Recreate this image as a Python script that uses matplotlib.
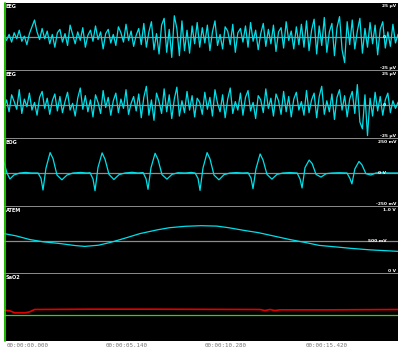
import numpy as np
import matplotlib.pyplot as plt
from matplotlib.lines import Line2D

# --- data ---
# EEG traces, µV, sampled evenly over the 20 s page
eeg1_uv = [2, -4, 3, -6, 5, -2, 8, -5, 1, -9, 4, 12, 20, 6, -3, 10, -2, 7, -8, 3, -12, 5,
           9, -6, 4, -10, 14, 3, -8, 6, -4, 11, -12, 2, 8, -5, 13, -3, 6, -14, 4, 9, -7, 3,
           -10, 12, 5, -6, 15, -4, 7, -11, 2, 10,
           -9, 16, -12, 6, 18, -15, 4, -20, 14, 22, -18, 9, -24, 25, 10, -22, 19, -16, 8,
           -19, 13, -8, 17, -12,
           11, -7, 14, -16, 6, 19, -10, 3, -14, 12, 7, -9, 15, -18, 5, 10, -6, 13, -12, 17,
           -5, 8, -15, 4, 16, -11, 9, -8, 14, -17, 6, 11, -13, 18, -4, 7, -14, 12, -9, 15,
           -12, 19, -16, 8, 21, -20, 13, -10, 23, -18, 6, 16, -22, 11, 24, -15, -30, 18, -9,
           20, -14, 7, 22, -19, 10, -12, 17, -8, 14, -21, 9, 18, -13, 6, -11, 15, -7, 3]
eeg2_uv = [-3, 6, -8, 12, 4, -5, 18, -10, 7, -2, 14, -6, 3, -12, 9, 16, -4, 8, -11, 5, 13, -7,
           10, -9, 4, 15, -6, 2, -13, 8, 20, -5, 11, -8, 6, -14, 12, 3, -10, 17, -3, 9, -12,
           5, 14, -9, 7, -4, 18, -11, 2, 10, -7, 13,
           -15, 9, 22, -12, 6, -18, 14, 4, -10, 19, -8, 12, -16, 7, 21, -13, 5, -9, 16, -6,
           11, -14, 8, 3,
           -11, 15, -5, 9, -13, 18, 2, -8, 12, -15, 7, 20, -10, 4, -6, 14, -12, 9, 17, -7,
           3, -16, 11, 6, -9, 19, -4, 8, -13, 13, 5, -11, 16, -8, 10, -14, 7, 15, -6, 4,
           -12, 17, -9, 6, 14, -15, 10, 22, -11, 5, -8, 13, -17, 9, 18, -6, 11, -14, 7, 16,
           -10, 24, -20, -28, 12, -36, 8, -13, 15, -7, 10, -12, 6, 14, -9, 5, -4, 3]

# EOG, (time s, mV)
eog_pts = [(0.00, 80), (0.15, 0), (0.30, -44), (0.50, -15), (0.80, 0), (1.10, 4), (1.40, 0),
           (1.73, 0), (1.88, -40), (1.98, -125), (2.13, 35), (2.34, 150), (2.49, 105),
           (2.69, -15), (2.94, -50), (3.20, -15), (3.50, 0), (3.90, 4), (4.20, 0),
           (4.37, 2), (4.52, -45), (4.62, -130), (4.77, 40), (4.98, 148), (5.13, 100),
           (5.33, -10), (5.58, -48), (5.84, -12), (6.14, 0), (6.50, 5), (6.80, 0),
           (7.06, 3), (7.21, -42), (7.31, -120), (7.46, 38), (7.67, 145), (7.82, 98),
           (8.02, -12), (8.27, -45), (8.53, -10), (8.83, 2), (9.20, 0), (9.50, 4),
           (9.70, 0), (9.85, -40), (9.95, -128), (10.10, 36), (10.31, 150), (10.46, 102),
           (10.66, -15), (10.91, -50), (11.17, -12), (11.47, 0), (11.80, 3), (12.10, 0),
           (12.39, 2), (12.54, -38), (12.64, -115), (12.79, 30), (13.00, 140), (13.15, 95),
           (13.35, -10), (13.60, -45), (13.86, -10), (14.16, 0), (14.50, 3), (14.88, 0),
           (15.03, -45), (15.13, -110), (15.28, 40), (15.49, 95), (15.64, 70), (15.84, -10),
           (16.09, -30), (16.35, -5), (16.65, 0), (17.00, 2), (17.41, 0), (17.56, -40),
           (17.66, -80), (17.81, 30), (18.02, 85), (18.17, 60), (18.37, -5), (18.62, -15),
           (18.88, 0), (19.18, 2), (19.50, 0), (20.00, 0)]

# ATEM (respiration), (time s, mV)
atem_pts = [(0.0, 603), (0.6, 570), (1.3, 515), (2.0, 480), (2.8, 456), (3.6, 425),
            (4.1, 412), (4.8, 430), (5.4, 471), (6.2, 540), (6.9, 603), (7.8, 660),
            (8.4, 691), (9.2, 712), (10.0, 721), (10.8, 715), (11.4, 691), (12.2, 650),
            (12.9, 618), (13.8, 560), (14.5, 515), (15.3, 470), (16.0, 427), (17.0, 400),
            (17.6, 383), (18.6, 360), (20.0, 338)]

# SaO2-like channel, (time s, %)
sat_pts = [(0.0, 46), (0.3, 45), (0.55, 42), (1.05, 42), (1.3, 43.5), (1.55, 47),
           (4.3, 47.5), (7.4, 47.5), (13.0, 47), (13.25, 45.5), (13.5, 47),
           (13.75, 45.5), (14.0, 46.5), (16.5, 46.5), (20.0, 47)]
sat_limit = 38.8

channel_names = ['EEG', 'EEG', 'EOG', 'ATEM', 'SaO2']
right_labels = [('25 µV', '0', '-25 µV'), ('25 µV', '0', '-25 µV'),
                ('250 mV', '0 V', '-250 mV'), ('1.0 V', '500 mV', '0 V'), ('', '', '')]
time_labels = ['00:00:00.000', '00:00:05.140', '00:00:10.280', '00:00:15.420']
time_pos = [0.15, 5.14, 10.2, 15.3]

# --- layout (pixels) ---
W, H = 400, 354
x0, x1 = 4, 398
bounds = [3, 71, 139, 207, 274, 341]
ylims = [(-40, 40), (-40, 40), (-250, 250), (0, 1000), (0, 100)]
cyan = '#00e0ea'
grey = '#8c8c8c'

fig = plt.figure(figsize=(W / 100, H / 100), dpi=100, facecolor='white')
axes = []
for k in range(5):
    top, bot = bounds[k], bounds[k + 1]
    ax = fig.add_axes([x0 / W, 1 - bot / H, (x1 - x0) / W, (bot - top) / H])
    ax.set_facecolor('black')
    ax.set_xlim(0, 20)
    ax.set_ylim(*ylims[k])
    ax.set_xticks([])
    ax.set_yticks([])
    for s in ax.spines.values():
        s.set_visible(False)
    lo, hi = ylims[k]
    if k < 4:
        ax.axhline((lo + hi) / 2, color=grey, lw=0.9, zorder=1)
        ax.axhline(lo, color=grey, lw=1.4, zorder=1)
    ax.text(0.004, 0.99, channel_names[k], transform=ax.transAxes, color='white',
            fontsize=3.6, fontweight='bold', va='top', ha='left', zorder=5)
    t_lab, m_lab, b_lab = right_labels[k]
    ax.text(0.995, 0.985, t_lab, transform=ax.transAxes, color='white', fontsize=3.2,
            fontweight='bold', va='top', ha='right', zorder=5)
    ax.text(0.995, 0.01, b_lab, transform=ax.transAxes, color='white', fontsize=3.2,
            fontweight='bold', va='bottom', ha='right', zorder=5)
    ax.text(0.97, 0.5, m_lab, transform=ax.transAxes, color='white', fontsize=3.2,
            fontweight='bold', va='center', ha='right', zorder=5)
    axes.append(ax)

t_eeg1 = np.linspace(0, 20, len(eeg1_uv))
t_eeg2 = np.linspace(0, 20, len(eeg2_uv))
axes[0].plot(t_eeg1, eeg1_uv, color=cyan, lw=0.9, zorder=3)
axes[1].plot(t_eeg2, eeg2_uv, color=cyan, lw=0.9, zorder=3)

eog_t, eog_v = zip(*eog_pts)
axes[2].plot(eog_t, eog_v, color=cyan, lw=0.9, zorder=3)

atem_t, atem_v = zip(*atem_pts)
axes[3].plot(atem_t, atem_v, color=cyan, lw=0.9, zorder=3)

sat_t, sat_v = zip(*sat_pts)
axes[4].axhline(sat_limit, color='#22dd00', lw=0.9, zorder=2)
axes[4].plot(sat_t, sat_v, color='#e00000', lw=1.2, zorder=3)

# time stamps under the page
for lab, t in zip(time_labels, time_pos):
    axes[4].text(t, -0.03, lab, transform=axes[4].get_xaxis_transform(), color='#777777',
                 fontsize=4.2, family='DejaVu Sans Mono', va='top', ha='left')

# green marker bar at the left edge
fig.add_artist(Line2D([(x0 + 0.5) / W] * 2, [1 - bounds[-1] / H, 1 - bounds[0] / H],
                      transform=fig.transFigure, color='#22dd00', lw=1.2))

fig.savefig('out.png', dpi=100, facecolor='white')
